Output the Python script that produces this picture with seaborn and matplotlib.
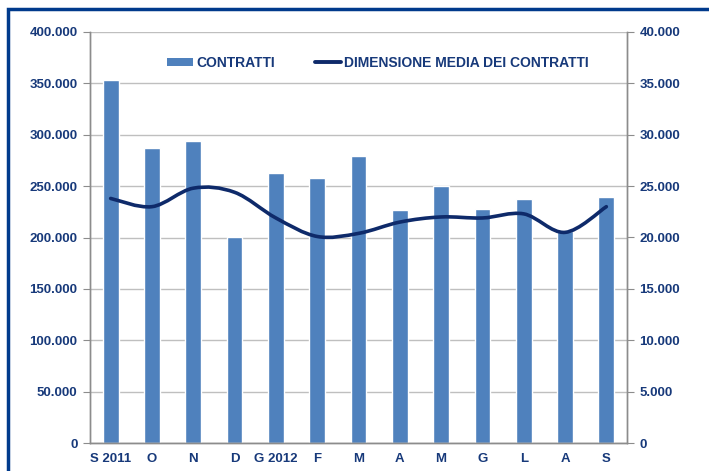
import matplotlib
matplotlib.use("Agg")
import matplotlib.pyplot as plt
import numpy as np
import pandas as pd
import seaborn as sns
from matplotlib.lines import Line2D
from matplotlib.patches import Patch, PathPatch, Rectangle
from matplotlib.path import Path
from matplotlib.ticker import FuncFormatter

# ---------------------------------------------------------
# Data
# ---------------------------------------------------------
months = ["S 2011", "O", "N", "D", "G 2012", "F", "M", "A", "M", "G", "L", "A", "S"]
contratti = [353000, 287000, 294000, 200500, 263000, 258000, 279000,
             227000, 250000, 228000, 237000, 206000, 239000]
dimensione_media = [23800, 23000, 24800, 24400, 21900, 20100, 20400,
                    21500, 22000, 21900, 22300, 20500, 23000]

BAR_COLOR = "#4F81BD"
LINE_COLOR = "#0E2A6A"
TEXT_COLOR = "#17397A"
GRID_COLOR = "#BFBFBF"
AXIS_COLOR = "#8C8C8C"

sns.set_style("white")
plt.rcParams["font.family"] = ["Liberation Sans", "DejaVu Sans"]


def dotted_thousands(v, pos=None):
    return f"{int(round(v)):,}".replace(",", ".")


def smooth_path(xs, ys):
    # Catmull-Rom style cubic Bezier through the points (Excel "smoothed line")
    pts = np.column_stack([xs, ys]).astype(float)
    n = len(pts)
    verts = [pts[0]]
    codes = [Path.MOVETO]
    for i in range(n - 1):
        p0 = pts[i - 1] if i > 0 else pts[i]
        p1, p2 = pts[i], pts[i + 1]
        p3 = pts[i + 2] if i + 2 < n else pts[i + 1]
        c1 = p1 + (p2 - p0) / 6.0
        c2 = p2 - (p3 - p1) / 6.0
        verts += [c1, c2, p2]
        codes += [Path.CURVE4] * 3
    return Path(verts, codes)


df = pd.DataFrame({"mese": range(len(months)), "contratti": contratti,
                   "dimensione": dimensione_media})

fig = plt.figure(figsize=(7.09, 4.71), dpi=100)
ax = fig.add_axes([90 / 709, 1 - 443 / 471, (627 - 90) / 709, (443 - 32) / 471])

sns.barplot(data=df, x="mese", y="contratti", color=BAR_COLOR, width=0.38,
            saturation=1, ax=ax, zorder=2)
ax.set_xlim(-0.5, len(months) - 0.5)
ax.set_ylim(0, 400000)
ax.set_yticks(np.arange(0, 400001, 50000))
ax.yaxis.set_major_formatter(FuncFormatter(dotted_thousands))
ax.set_xlabel("")
ax.set_ylabel("")
ax.set_xticks(range(len(months)))
ax.set_xticklabels(months)
ax.set_xticks(np.arange(-0.5, len(months), 1), minor=True)
ax.tick_params(axis="x", which="major", length=0, pad=7)
ax.tick_params(axis="x", which="minor", length=4, color=AXIS_COLOR, direction="out")
ax.tick_params(axis="y", length=5, color=AXIS_COLOR, direction="out", pad=4)
ax.grid(axis="y", color=GRID_COLOR, linewidth=1, zorder=0)
ax.set_axisbelow(True)

ax2 = ax.twinx()
ax2.set_ylim(0, 40000)
ax2.set_yticks(np.arange(0, 40001, 5000))
ax2.yaxis.set_major_formatter(FuncFormatter(dotted_thousands))
ax2.tick_params(axis="y", length=5, color=AXIS_COLOR, direction="out", pad=4)
ax2.add_patch(PathPatch(smooth_path(df["mese"], df["dimensione"]), facecolor="none",
                        edgecolor=LINE_COLOR, linewidth=2.6, capstyle="round",
                        zorder=3))

for a in (ax, ax2):
    a.spines["top"].set_visible(False)
    for side in ("left", "right", "bottom"):
        a.spines[side].set_color(AXIS_COLOR)
        a.spines[side].set_linewidth(1)
    for lab in a.get_xticklabels() + a.get_yticklabels():
        lab.set_fontweight("bold")
        lab.set_color(TEXT_COLOR)
        lab.set_fontsize(9.5)

handles = [Patch(facecolor=BAR_COLOR, edgecolor="none"),
           Line2D([], [], color=LINE_COLOR, linewidth=2.8, solid_capstyle="round")]
leg = ax2.legend(handles, ["CONTRATTI", "DIMENSIONE MEDIA DEI CONTRATTI"],
                 loc="center", bbox_to_anchor=(0.536, 0.925), ncol=2, frameon=False,
                 handlelength=1.9, handleheight=0.6, handletextpad=0.2,
                 columnspacing=2.9, prop={"weight": "bold", "size": 10})
for t in leg.get_texts():
    t.set_color(TEXT_COLOR)

# navy frame around the chart (clipped at the right and bottom edges)
fig.patches.append(Rectangle((8 / 709, -0.05), 1.2, 1 - 9 / 471 + 0.05,
                             transform=fig.transFigure, fill=False,
                             edgecolor="#003A8C", linewidth=2.5, zorder=10))

fig.savefig("out.png", dpi=100)
